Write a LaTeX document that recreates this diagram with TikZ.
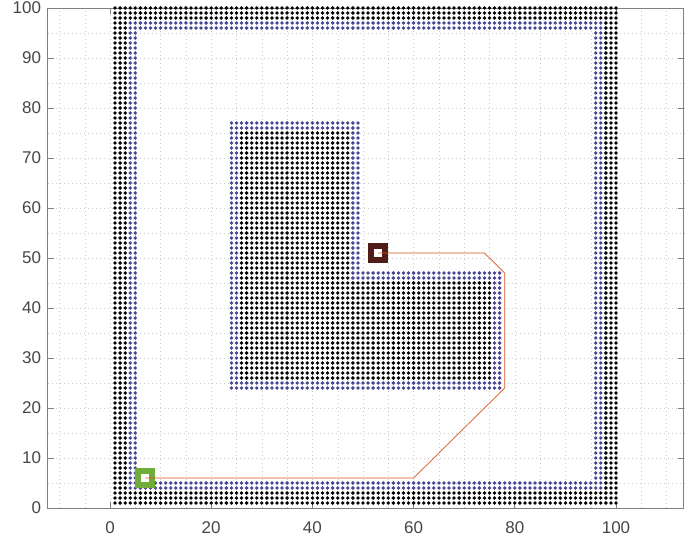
\documentclass[tikz,border=0pt]{standalone}
\usepackage{fontspec}
\setmainfont{Liberation Sans}

\definecolor{wallblue}{RGB}{70,70,150}
\definecolor{pathorange}{RGB}{217,83,25}
\definecolor{startgreen}{RGB}{112,172,56}
\definecolor{goalbrown}{RGB}{80,28,24}
\definecolor{axisgray}{RGB}{128,128,128}
\definecolor{labelgray}{RGB}{70,70,70}

% block of map cells, one dot per cell
\newcommand{\dotblock}[5]{%
  \foreach \i in {#1,...,#2}{%
    \foreach \j in {#3,...,#4}{%
      \fill[#5] (\i,\j) circle[radius=1.9pt];}}}

\begin{document}
\begin{tikzpicture}[x=5.06pt, y=5pt,
    gridline/.style={draw=gray!40, line width=0.4pt, dash pattern=on 1pt off 3pt},
    ticklabel/.style={font=\fontsize{17}{17}\selectfont, text=labelgray, inner sep=1pt},
    marker/.style={draw, fill=white, line width=6pt, minimum size=14pt, inner sep=0pt}]

    \useasboundingbox (-110pt,-35pt) rectangle (582pt,508pt);

    % grid
    \foreach \gx in {-10,-5,...,110}
        \draw[gridline] (\gx,0) -- (\gx,100);
    \foreach \gy in {5,10,...,95}
        \draw[gridline] (-12.3,\gy) -- (113.4,\gy);

    % axes box and ticks
    \draw[axisgray, line width=0.7pt] (-12.3,0) rectangle (113.4,100);
    \foreach \ty in {0,10,...,100} {
        \draw[axisgray, line width=0.7pt] (-12.3,\ty) -- ++(1.2,0);
        \draw[axisgray, line width=0.7pt] (113.4,\ty) -- ++(-1.2,0);
        \node[ticklabel, anchor=east] (yl\ty) at (-13.4,\ty) {\ty};
    }
    \foreach \tx in {0,20,...,100} {
        \draw[axisgray, line width=0.7pt] (\tx,0) -- ++(0,1.2);
        \draw[axisgray, line width=0.7pt] (\tx,100) -- ++(0,-1.2);
        \node[ticklabel, anchor=north] (xl\tx) at (\tx,-2.4) {\tx};
    }

    % outer wall
    \dotblock{1}{100}{1}{3}{black}
    \dotblock{1}{100}{98}{100}{black}
    \dotblock{1}{3}{4}{97}{black}
    \dotblock{98}{100}{4}{97}{black}

    % outer wall, inflated
    \dotblock{4}{97}{4}{5}{wallblue}
    \dotblock{4}{97}{96}{97}{wallblue}
    \dotblock{4}{5}{6}{95}{wallblue}
    \dotblock{96}{97}{6}{95}{wallblue}

    % L obstacle
    \dotblock{26}{47}{26}{75}{black}
    \dotblock{48}{75}{26}{45}{black}

    % L obstacle, inflated
    \dotblock{24}{77}{24}{25}{wallblue}
    \dotblock{24}{25}{26}{77}{wallblue}
    \dotblock{26}{49}{76}{77}{wallblue}
    \dotblock{48}{49}{46}{75}{wallblue}
    \dotblock{50}{77}{46}{47}{wallblue}
    \dotblock{76}{77}{26}{45}{wallblue}

    % start and goal
    \node[marker, draw=startgreen] (start) at (7,6) {};
    \node[marker, draw=goalbrown] (goal) at (53,51) {};

    % path
    \coordinate (p1) at (60,6);
    \coordinate (p2) at (78,24);
    \coordinate (p3) at (78,47);
    \coordinate (p4) at (74,51);
    \draw[pathorange, line width=0.7pt] (start.center) -- (p1) -- (p2) -- (p3) -- (p4) -- (goal.center);

\end{tikzpicture}
\end{document}
